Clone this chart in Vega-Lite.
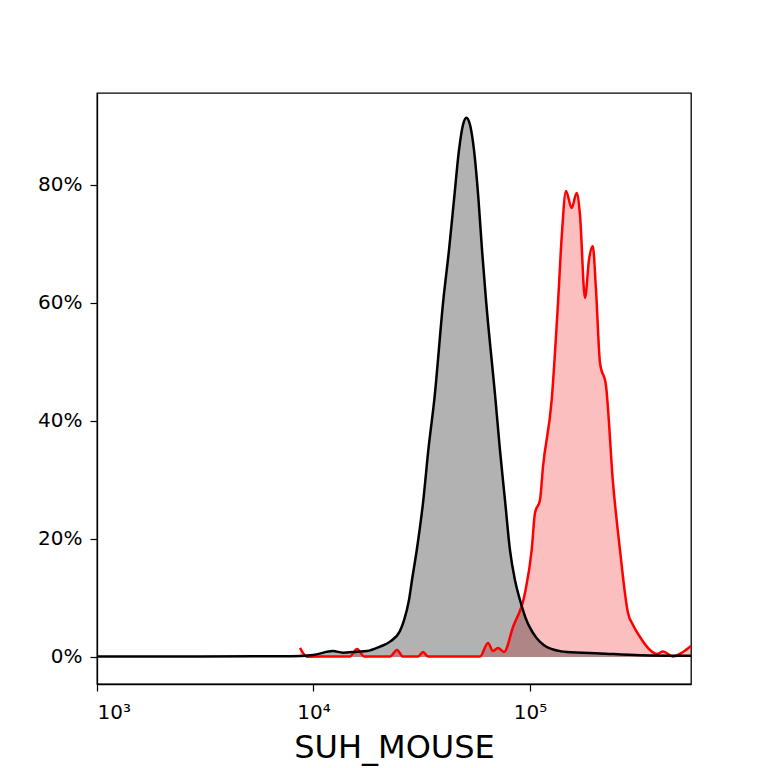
{
  "$schema": "https://vega.github.io/schema/vega-lite/v6.json",
  "autosize": "none",
  "padding": {"left": 97, "top": 93, "right": 77, "bottom": 84},
  "width": 594,
  "height": 591,
  "background": "white",
  "config": {
    "font": "DejaVu Sans",
    "view": {"stroke": "black", "strokeWidth": 1.3},
    "axis": {
      "grid": false,
      "domainColor": "black",
      "domainWidth": 1.3,
      "tickColor": "black",
      "tickWidth": 1.2,
      "tickSize": 7,
      "labelColor": "black",
      "labelFont": "DejaVu Sans",
      "labelFontSize": 20,
      "titleFont": "DejaVu Sans",
      "titleColor": "black"
    }
  },
  "datasets": {
    "ctrl": [
      {"v": 1000, "p": 0.1}, {"v": 2991, "p": 0.1}, {"v": 7790, "p": 0.12},
      {"v": 9947, "p": 0.34}, {"v": 12307, "p": 1.0}, {"v": 13685, "p": 0.73},
      {"v": 15880, "p": 0.9}, {"v": 17665, "p": 1.0}, {"v": 20290, "p": 1.75},
      {"v": 22560, "p": 2.6}, {"v": 25080, "p": 4.4}, {"v": 26180, "p": 6.2},
      {"v": 27610, "p": 9.66}, {"v": 28510, "p": 13.05}, {"v": 29990, "p": 18.14},
      {"v": 32160, "p": 26.6}, {"v": 33920, "p": 35.1}, {"v": 36140, "p": 43.6},
      {"v": 39780, "p": 60.5}, {"v": 42260, "p": 69.0}, {"v": 44570, "p": 77.5},
      {"v": 46990, "p": 85.9}, {"v": 49040, "p": 90.2}, {"v": 50830, "p": 91.4},
      {"v": 52840, "p": 90.2}, {"v": 55130, "p": 85.9}, {"v": 57830, "p": 77.5},
      {"v": 60030, "p": 69.0}, {"v": 62640, "p": 60.5}, {"v": 69290, "p": 43.6},
      {"v": 72680, "p": 35.0}, {"v": 76640, "p": 26.6}, {"v": 80830, "p": 18.1},
      {"v": 85240, "p": 13}, {"v": 89910, "p": 9.66}, {"v": 96850, "p": 6},
      {"v": 103250, "p": 4.07}, {"v": 119840, "p": 1.69}, {"v": 148220, "p": 0.85},
      {"v": 210600, "p": 0.6}, {"v": 322200, "p": 0.3}, {"v": 554000, "p": 0.2}
    ],
    "stain": [
      {"v": 8662, "p": 1.53}, {"v": 9333, "p": 0.05}, {"v": 11920, "p": 0.08},
      {"v": 14746, "p": 0.1}, {"v": 15880, "p": 1.36}, {"v": 17120, "p": 0.1},
      {"v": 22560, "p": 0.08}, {"v": 24300, "p": 1.19}, {"v": 25900, "p": 0.08},
      {"v": 30390, "p": 0.08}, {"v": 32050, "p": 0.85}, {"v": 33800, "p": 0.08},
      {"v": 58770, "p": 0.08}, {"v": 63980, "p": 2.37}, {"v": 67470, "p": 1.02},
      {"v": 71160, "p": 1.53}, {"v": 75860, "p": 0.85}, {"v": 83450, "p": 5.08},
      {"v": 94820, "p": 10.85}, {"v": 101830, "p": 18.14}, {"v": 105450, "p": 24.4},
      {"v": 111220, "p": 26.6}, {"v": 114800, "p": 32.2}, {"v": 125960, "p": 43.56},
      {"v": 134700, "p": 60.0}, {"v": 140100, "p": 71.2}, {"v": 146650, "p": 79.0},
      {"v": 155800, "p": 76.1}, {"v": 164300, "p": 78.64}, {"v": 170200, "p": 74.9},
      {"v": 179500, "p": 60.85}, {"v": 187300, "p": 67.3}, {"v": 194900, "p": 69.66},
      {"v": 201800, "p": 62.2}, {"v": 210600, "p": 49.83}, {"v": 224400, "p": 46},
      {"v": 241800, "p": 29.5}, {"v": 260400, "p": 18.14}, {"v": 283600, "p": 7.46},
      {"v": 299100, "p": 5.42}, {"v": 322200, "p": 3.39}, {"v": 358300, "p": 1.19},
      {"v": 386000, "p": 0.5}, {"v": 411600, "p": 0.93}, {"v": 457600, "p": 0.08},
      {"v": 508900, "p": 0.85}, {"v": 554000, "p": 1.86}
    ]
  },
  "encoding": {
    "x": {
      "field": "v",
      "type": "quantitative",
      "scale": {"type": "log", "domain": [1000, 554200], "nice": false},
      "axis": {
        "values": [1000, 10000, 100000],
        "labelExpr": "datum.value == 1000 ? '10³' : datum.value == 10000 ? '10⁴' : '10⁵'",
        "labelBaseline": "alphabetic",
        "labelPadding": 27,
        "title": "SUH_MOUSE",
        "titleFontSize": 32,
        "titleFontWeight": "normal",
        "titleBaseline": "alphabetic",
        "titleY": 73
      }
    },
    "y": {
      "field": "p",
      "type": "quantitative",
      "scale": {"domain": [-4.58, 95.59], "nice": false, "zero": false},
      "axis": {
        "values": [0, 20, 40, 60, 80],
        "labelExpr": "datum.value + '%'",
        "labelPadding": 8,
        "title": null
      }
    },
    "y2": {"datum": 0}
  },
  "layer": [
    {
      "data": {"name": "stain"},
      "mark": {"type": "area", "color": "#ee0000", "opacity": 0.25, "interpolate": "monotone"}
    },
    {
      "data": {"name": "ctrl"},
      "mark": {"type": "area", "color": "black", "opacity": 0.3, "interpolate": "monotone"}
    },
    {
      "data": {"name": "stain"},
      "mark": {"type": "line", "color": "red", "strokeWidth": 2.5, "interpolate": "monotone"},
      "encoding": {"y2": null}
    },
    {
      "data": {"name": "ctrl"},
      "mark": {"type": "line", "color": "black", "strokeWidth": 2.5, "interpolate": "monotone"},
      "encoding": {"y2": null}
    }
  ]
}
